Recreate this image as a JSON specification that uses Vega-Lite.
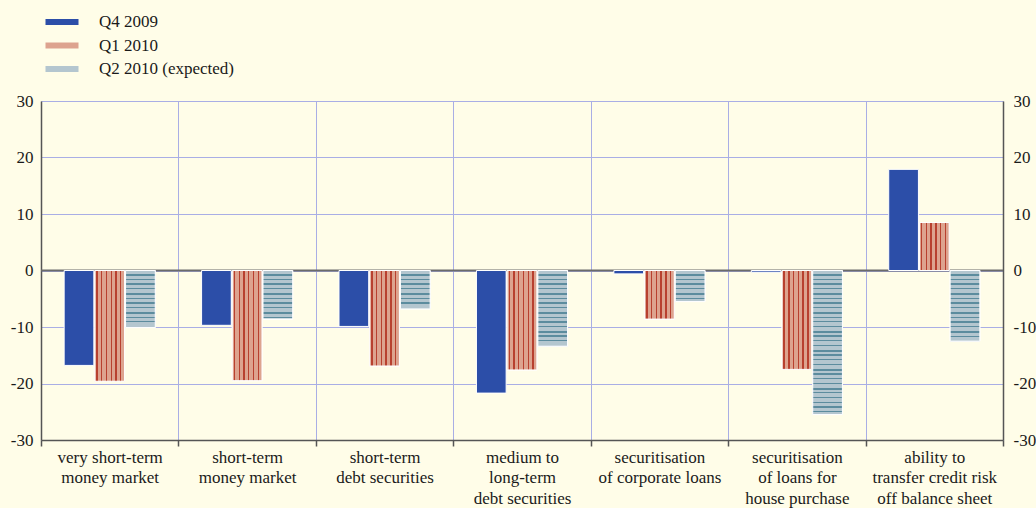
{
  "$schema": "https://vega.github.io/schema/vega-lite/v6.json",
  "width": 962,
  "height": 339,
  "autosize": {"type": "none"},
  "padding": {"left": 41, "top": 101, "right": 33, "bottom": 68},
  "background": "#FFFDE8",
  "config": {"view": {"stroke": null}, "font": "Liberation Serif"},
  "data": {"values": [
    {"cat": "very short-term|money market", "series": "Q4 2009", "value": -16.8},
    {"cat": "very short-term|money market", "series": "Q1 2010", "value": -19.6},
    {"cat": "very short-term|money market", "series": "Q2 2010 (expected)", "value": -10.1},
    {"cat": "short-term|money market", "series": "Q4 2009", "value": -9.7},
    {"cat": "short-term|money market", "series": "Q1 2010", "value": -19.5},
    {"cat": "short-term|money market", "series": "Q2 2010 (expected)", "value": -8.6},
    {"cat": "short-term|debt securities", "series": "Q4 2009", "value": -9.9},
    {"cat": "short-term|debt securities", "series": "Q1 2010", "value": -16.9},
    {"cat": "short-term|debt securities", "series": "Q2 2010 (expected)", "value": -6.8},
    {"cat": "medium to|long-term|debt securities", "series": "Q4 2009", "value": -21.7},
    {"cat": "medium to|long-term|debt securities", "series": "Q1 2010", "value": -17.6},
    {"cat": "medium to|long-term|debt securities", "series": "Q2 2010 (expected)", "value": -13.4},
    {"cat": "securitisation|of corporate loans", "series": "Q4 2009", "value": -0.6},
    {"cat": "securitisation|of corporate loans", "series": "Q1 2010", "value": -8.6},
    {"cat": "securitisation|of corporate loans", "series": "Q2 2010 (expected)", "value": -5.5},
    {"cat": "securitisation|of loans for|house purchase", "series": "Q4 2009", "value": -0.3},
    {"cat": "securitisation|of loans for|house purchase", "series": "Q1 2010", "value": -17.5},
    {"cat": "securitisation|of loans for|house purchase", "series": "Q2 2010 (expected)", "value": -25.5},
    {"cat": "ability to|transfer credit risk|off balance sheet", "series": "Q4 2009", "value": 17.9},
    {"cat": "ability to|transfer credit risk|off balance sheet", "series": "Q1 2010", "value": 8.5},
    {"cat": "ability to|transfer credit risk|off balance sheet", "series": "Q2 2010 (expected)", "value": -12.5}
  ]},
  "resolve": {"axis": {"y": "independent"}},
  "layer": [
    {
      "data": {"values": [{"zero": 0}]},
      "mark": {"type": "rule", "color": "#6b6b6b", "strokeWidth": 2},
      "encoding": {
        "y": {"field": "zero", "type": "quantitative", "scale": {"domain": [-30, 30], "nice": false}, "axis": null}
      }
    },
    {
      "mark": {"type": "bar", "stroke": "white", "strokeWidth": 1},
      "encoding": {
        "x": {"field": "cat", "type": "nominal", "sort": null,
          "scale": {"paddingInner": 0, "paddingOuter": 0},
          "axis": {"title": null, "labelExpr": "split(datum.label, '|')", "labelAngle": 0, "labelAlign": "center", "labelBaseline": "top",
            "labelFontSize": 17, "labelColor": "#1a1a1a", "labelLineHeight": 20.7, "labelPadding": 3,
            "tickBand": "extent", "ticks": true, "tickSize": 6, "tickColor": "#555", "tickWidth": 1.5,
            "domainColor": "#555", "domainWidth": 1.5, "grid": true, "gridColor": "#A9AEE5", "gridWidth": 1}},
        "xOffset": {"field": "series", "type": "nominal", "scale": {"domain": ["Q4 2009", "Q1 2010", "Q2 2010 (expected)"], "paddingInner": 0.033, "paddingOuter": 0.754}},
        "y": {"field": "value", "type": "quantitative", "scale": {"domain": [-30, 30], "nice": false},
          "axis": {"title": null, "orient": "left", "values": [-30, -20, -10, 0, 10, 20, 30], "ticks": false, "labelPadding": 8,
            "labelExpr": "replace(datum.label, '\u2212', '-')",
            "labelFontSize": 17, "labelColor": "#1a1a1a", "domainColor": "#555", "domainWidth": 1.5,
            "grid": true, "gridColor": "#A9AEE5", "gridWidth": 1}},
        "color": {"field": "series", "type": "nominal",
          "scale": {"domain": ["Q4 2009", "Q1 2010", "Q2 2010 (expected)"], "range": ["#2C4EA8", "#DDA38F", "#B4C6CF"]},
          "legend": {"title": null, "orient": "none", "legendX": 12.5, "legendY": -87.5, "padding": 0,
            "symbolType": "M-5.5,-1L5.5,-1L5.5,1L-5.5,1Z", "symbolSize": 36, "symbolStrokeWidth": 0,
            "labelFontSize": 17, "labelColor": "#1a1a1a", "labelOffset": 28.5, "rowPadding": 5.5,
            "encode": {"symbols": {"update": {"fill": {"condition": [
              {"test": "datum.value === 'Q1 2010'", "value": {"gradient": "linear", "x1": 0, "y1": 0, "x2": 1, "y2": 0, "stops": [
                {"offset": 0, "color": "#DDA38F"},
                {"offset": 0.06, "color": "#DDA38F"}, {"offset": 0.06, "color": "#B8402F"}, {"offset": 0.1, "color": "#B8402F"}, {"offset": 0.1, "color": "#DDA38F"},
                {"offset": 0.2, "color": "#DDA38F"}, {"offset": 0.2, "color": "#B8402F"}, {"offset": 0.24, "color": "#B8402F"}, {"offset": 0.24, "color": "#DDA38F"},
                {"offset": 0.34, "color": "#DDA38F"}, {"offset": 0.34, "color": "#B8402F"}, {"offset": 0.38, "color": "#B8402F"}, {"offset": 0.38, "color": "#DDA38F"},
                {"offset": 0.48, "color": "#DDA38F"}, {"offset": 0.48, "color": "#B8402F"}, {"offset": 0.52, "color": "#B8402F"}, {"offset": 0.52, "color": "#DDA38F"},
                {"offset": 0.62, "color": "#DDA38F"}, {"offset": 0.62, "color": "#B8402F"}, {"offset": 0.66, "color": "#B8402F"}, {"offset": 0.66, "color": "#DDA38F"},
                {"offset": 0.76, "color": "#DDA38F"}, {"offset": 0.76, "color": "#B8402F"}, {"offset": 0.8, "color": "#B8402F"}, {"offset": 0.8, "color": "#DDA38F"},
                {"offset": 0.9, "color": "#DDA38F"}, {"offset": 0.9, "color": "#B8402F"}, {"offset": 0.94, "color": "#B8402F"}, {"offset": 0.94, "color": "#DDA38F"},
                {"offset": 1, "color": "#DDA38F"}]}},
              {"test": "datum.value === 'Q2 2010 (expected)'", "value": {"gradient": "linear", "x1": 0, "y1": 0, "x2": 0, "y2": 1, "stops": [
                {"offset": 0, "color": "#B4C6CF"}, {"offset": 0.4, "color": "#B4C6CF"}, {"offset": 0.4, "color": "#5C8C9E"},
                {"offset": 0.62, "color": "#5C8C9E"}, {"offset": 0.62, "color": "#B4C6CF"}, {"offset": 1, "color": "#B4C6CF"}]}}
            ], "value": "#2C4EA8"}}}}
          }}
      }
    },
    {
      "transform": [{"filter": "datum.series === 'Q1 2010'"}],
      "mark": {"type": "bar", "stroke": "white", "strokeWidth": 1,
        "fill": {"gradient": "linear", "x1": 0, "y1": 0, "x2": 1, "y2": 0, "stops": [
          {"offset": 0, "color": "#DDA38F"},
          {"offset": 0.05, "color": "#DDA38F"}, {"offset": 0.05, "color": "#B8402F"}, {"offset": 0.1, "color": "#B8402F"}, {"offset": 0.1, "color": "#DDA38F"},
          {"offset": 0.21, "color": "#DDA38F"}, {"offset": 0.21, "color": "#B8402F"}, {"offset": 0.255, "color": "#B8402F"}, {"offset": 0.255, "color": "#DDA38F"},
          {"offset": 0.37, "color": "#DDA38F"}, {"offset": 0.37, "color": "#B8402F"}, {"offset": 0.415, "color": "#B8402F"}, {"offset": 0.415, "color": "#DDA38F"},
          {"offset": 0.53, "color": "#DDA38F"}, {"offset": 0.53, "color": "#B8402F"}, {"offset": 0.575, "color": "#B8402F"}, {"offset": 0.575, "color": "#DDA38F"},
          {"offset": 0.69, "color": "#DDA38F"}, {"offset": 0.69, "color": "#B8402F"}, {"offset": 0.74, "color": "#B8402F"}, {"offset": 0.74, "color": "#DDA38F"},
          {"offset": 0.85, "color": "#DDA38F"}, {"offset": 0.85, "color": "#B8402F"}, {"offset": 0.895, "color": "#B8402F"}, {"offset": 0.895, "color": "#DDA38F"},
          {"offset": 1, "color": "#DDA38F"}]}},
      "encoding": {
        "x": {"field": "cat", "type": "nominal", "sort": null},
        "xOffset": {"field": "series", "type": "nominal", "scale": {"domain": ["Q4 2009", "Q1 2010", "Q2 2010 (expected)"]}},
        "y": {"field": "value", "type": "quantitative", "scale": {"domain": [-30, 30], "nice": false},
          "axis": {"title": null, "orient": "right", "values": [-30, -20, -10, 0, 10, 20, 30], "ticks": false, "labelPadding": 10,
            "labelExpr": "replace(datum.label, '\u2212', '-')",
            "labelFontSize": 17, "labelColor": "#1a1a1a", "domainColor": "#555", "domainWidth": 1.5, "grid": false}}
      }
    },
    {
      "transform": [{"filter": "datum.series === 'Q2 2010 (expected)'"}],
      "mark": {"type": "bar", "stroke": "white", "strokeWidth": 1},
      "encoding": {
        "x": {"field": "cat", "type": "nominal", "sort": null},
        "xOffset": {"field": "series", "type": "nominal", "scale": {"domain": ["Q4 2009", "Q1 2010", "Q2 2010 (expected)"]}},
        "y": {"field": "value", "type": "quantitative", "scale": {"domain": [-30, 30], "nice": false}, "axis": null},
        "fill": {"condition": [
          {"test": "datum.cat === 'very short-term|money market'", "value": {"gradient": "linear", "x1": 0, "y1": 0, "x2": 0, "y2": 1, "stops": [
            {"offset": 0, "color": "#B4C6CF"},
            {"offset": 0.0613, "color": "#B4C6CF"}, {"offset": 0.0613, "color": "#5C8C9E"}, {"offset": 0.0963, "color": "#5C8C9E"}, {"offset": 0.0963, "color": "#B4C6CF"},
            {"offset": 0.1441, "color": "#B4C6CF"}, {"offset": 0.1441, "color": "#5C8C9E"}, {"offset": 0.1651, "color": "#5C8C9E"}, {"offset": 0.1651, "color": "#B4C6CF"},
            {"offset": 0.227, "color": "#B4C6CF"}, {"offset": 0.227, "color": "#5C8C9E"}, {"offset": 0.248, "color": "#5C8C9E"}, {"offset": 0.248, "color": "#B4C6CF"},
            {"offset": 0.3098, "color": "#B4C6CF"}, {"offset": 0.3098, "color": "#5C8C9E"}, {"offset": 0.3308, "color": "#5C8C9E"}, {"offset": 0.3308, "color": "#B4C6CF"},
            {"offset": 0.3926, "color": "#B4C6CF"}, {"offset": 0.3926, "color": "#5C8C9E"}, {"offset": 0.4277, "color": "#5C8C9E"}, {"offset": 0.4277, "color": "#B4C6CF"},
            {"offset": 0.4755, "color": "#B4C6CF"}, {"offset": 0.4755, "color": "#5C8C9E"}, {"offset": 0.4965, "color": "#5C8C9E"}, {"offset": 0.4965, "color": "#B4C6CF"},
            {"offset": 0.5583, "color": "#B4C6CF"}, {"offset": 0.5583, "color": "#5C8C9E"}, {"offset": 0.5793, "color": "#5C8C9E"}, {"offset": 0.5793, "color": "#B4C6CF"},
            {"offset": 0.6412, "color": "#B4C6CF"}, {"offset": 0.6412, "color": "#5C8C9E"}, {"offset": 0.6622, "color": "#5C8C9E"}, {"offset": 0.6622, "color": "#B4C6CF"},
            {"offset": 0.724, "color": "#B4C6CF"}, {"offset": 0.724, "color": "#5C8C9E"}, {"offset": 0.759, "color": "#5C8C9E"}, {"offset": 0.759, "color": "#B4C6CF"},
            {"offset": 0.8068, "color": "#B4C6CF"}, {"offset": 0.8068, "color": "#5C8C9E"}, {"offset": 0.8278, "color": "#5C8C9E"}, {"offset": 0.8278, "color": "#B4C6CF"},
            {"offset": 0.8897, "color": "#B4C6CF"}, {"offset": 0.8897, "color": "#5C8C9E"}, {"offset": 0.9107, "color": "#5C8C9E"}, {"offset": 0.9107, "color": "#B4C6CF"},
            {"offset": 1, "color": "#B4C6CF"}]}},
          {"test": "datum.cat === 'short-term|money market'", "value": {"gradient": "linear", "x1": 0, "y1": 0, "x2": 0, "y2": 1, "stops": [
            {"offset": 0, "color": "#B4C6CF"},
            {"offset": 0.072, "color": "#B4C6CF"}, {"offset": 0.072, "color": "#5C8C9E"}, {"offset": 0.1132, "color": "#5C8C9E"}, {"offset": 0.1132, "color": "#B4C6CF"},
            {"offset": 0.1693, "color": "#B4C6CF"}, {"offset": 0.1693, "color": "#5C8C9E"}, {"offset": 0.194, "color": "#5C8C9E"}, {"offset": 0.194, "color": "#B4C6CF"},
            {"offset": 0.2667, "color": "#B4C6CF"}, {"offset": 0.2667, "color": "#5C8C9E"}, {"offset": 0.2914, "color": "#5C8C9E"}, {"offset": 0.2914, "color": "#B4C6CF"},
            {"offset": 0.364, "color": "#B4C6CF"}, {"offset": 0.364, "color": "#5C8C9E"}, {"offset": 0.3887, "color": "#5C8C9E"}, {"offset": 0.3887, "color": "#B4C6CF"},
            {"offset": 0.4613, "color": "#B4C6CF"}, {"offset": 0.4613, "color": "#5C8C9E"}, {"offset": 0.5025, "color": "#5C8C9E"}, {"offset": 0.5025, "color": "#B4C6CF"},
            {"offset": 0.5586, "color": "#B4C6CF"}, {"offset": 0.5586, "color": "#5C8C9E"}, {"offset": 0.5833, "color": "#5C8C9E"}, {"offset": 0.5833, "color": "#B4C6CF"},
            {"offset": 0.656, "color": "#B4C6CF"}, {"offset": 0.656, "color": "#5C8C9E"}, {"offset": 0.6807, "color": "#5C8C9E"}, {"offset": 0.6807, "color": "#B4C6CF"},
            {"offset": 0.7533, "color": "#B4C6CF"}, {"offset": 0.7533, "color": "#5C8C9E"}, {"offset": 0.778, "color": "#5C8C9E"}, {"offset": 0.778, "color": "#B4C6CF"},
            {"offset": 0.8506, "color": "#B4C6CF"}, {"offset": 0.8506, "color": "#5C8C9E"}, {"offset": 0.8918, "color": "#5C8C9E"}, {"offset": 0.8918, "color": "#B4C6CF"},
            {"offset": 0.9479, "color": "#B4C6CF"}, {"offset": 0.9479, "color": "#5C8C9E"}, {"offset": 0.9726, "color": "#5C8C9E"}, {"offset": 0.9726, "color": "#B4C6CF"},
            {"offset": 1, "color": "#B4C6CF"}]}},
          {"test": "datum.cat === 'short-term|debt securities'", "value": {"gradient": "linear", "x1": 0, "y1": 0, "x2": 0, "y2": 1, "stops": [
            {"offset": 0, "color": "#B4C6CF"},
            {"offset": 0.0911, "color": "#B4C6CF"}, {"offset": 0.0911, "color": "#5C8C9E"}, {"offset": 0.1432, "color": "#5C8C9E"}, {"offset": 0.1432, "color": "#B4C6CF"},
            {"offset": 0.2143, "color": "#B4C6CF"}, {"offset": 0.2143, "color": "#5C8C9E"}, {"offset": 0.2456, "color": "#5C8C9E"}, {"offset": 0.2456, "color": "#B4C6CF"},
            {"offset": 0.3375, "color": "#B4C6CF"}, {"offset": 0.3375, "color": "#5C8C9E"}, {"offset": 0.3688, "color": "#5C8C9E"}, {"offset": 0.3688, "color": "#B4C6CF"},
            {"offset": 0.4607, "color": "#B4C6CF"}, {"offset": 0.4607, "color": "#5C8C9E"}, {"offset": 0.4919, "color": "#5C8C9E"}, {"offset": 0.4919, "color": "#B4C6CF"},
            {"offset": 0.5839, "color": "#B4C6CF"}, {"offset": 0.5839, "color": "#5C8C9E"}, {"offset": 0.6359, "color": "#5C8C9E"}, {"offset": 0.6359, "color": "#B4C6CF"},
            {"offset": 0.707, "color": "#B4C6CF"}, {"offset": 0.707, "color": "#5C8C9E"}, {"offset": 0.7383, "color": "#5C8C9E"}, {"offset": 0.7383, "color": "#B4C6CF"},
            {"offset": 0.8302, "color": "#B4C6CF"}, {"offset": 0.8302, "color": "#5C8C9E"}, {"offset": 0.8615, "color": "#5C8C9E"}, {"offset": 0.8615, "color": "#B4C6CF"},
            {"offset": 1, "color": "#B4C6CF"}]}},
          {"test": "datum.cat === 'medium to|long-term|debt securities'", "value": {"gradient": "linear", "x1": 0, "y1": 0, "x2": 0, "y2": 1, "stops": [
            {"offset": 0, "color": "#B4C6CF"},
            {"offset": 0.0462, "color": "#B4C6CF"}, {"offset": 0.0462, "color": "#5C8C9E"}, {"offset": 0.0727, "color": "#5C8C9E"}, {"offset": 0.0727, "color": "#B4C6CF"},
            {"offset": 0.1087, "color": "#B4C6CF"}, {"offset": 0.1087, "color": "#5C8C9E"}, {"offset": 0.1246, "color": "#5C8C9E"}, {"offset": 0.1246, "color": "#B4C6CF"},
            {"offset": 0.1712, "color": "#B4C6CF"}, {"offset": 0.1712, "color": "#5C8C9E"}, {"offset": 0.1871, "color": "#5C8C9E"}, {"offset": 0.1871, "color": "#B4C6CF"},
            {"offset": 0.2337, "color": "#B4C6CF"}, {"offset": 0.2337, "color": "#5C8C9E"}, {"offset": 0.2495, "color": "#5C8C9E"}, {"offset": 0.2495, "color": "#B4C6CF"},
            {"offset": 0.2962, "color": "#B4C6CF"}, {"offset": 0.2962, "color": "#5C8C9E"}, {"offset": 0.3226, "color": "#5C8C9E"}, {"offset": 0.3226, "color": "#B4C6CF"},
            {"offset": 0.3587, "color": "#B4C6CF"}, {"offset": 0.3587, "color": "#5C8C9E"}, {"offset": 0.3745, "color": "#5C8C9E"}, {"offset": 0.3745, "color": "#B4C6CF"},
            {"offset": 0.4211, "color": "#B4C6CF"}, {"offset": 0.4211, "color": "#5C8C9E"}, {"offset": 0.437, "color": "#5C8C9E"}, {"offset": 0.437, "color": "#B4C6CF"},
            {"offset": 0.4836, "color": "#B4C6CF"}, {"offset": 0.4836, "color": "#5C8C9E"}, {"offset": 0.4995, "color": "#5C8C9E"}, {"offset": 0.4995, "color": "#B4C6CF"},
            {"offset": 0.5461, "color": "#B4C6CF"}, {"offset": 0.5461, "color": "#5C8C9E"}, {"offset": 0.5725, "color": "#5C8C9E"}, {"offset": 0.5725, "color": "#B4C6CF"},
            {"offset": 0.6086, "color": "#B4C6CF"}, {"offset": 0.6086, "color": "#5C8C9E"}, {"offset": 0.6244, "color": "#5C8C9E"}, {"offset": 0.6244, "color": "#B4C6CF"},
            {"offset": 0.6711, "color": "#B4C6CF"}, {"offset": 0.6711, "color": "#5C8C9E"}, {"offset": 0.6869, "color": "#5C8C9E"}, {"offset": 0.6869, "color": "#B4C6CF"},
            {"offset": 0.7336, "color": "#B4C6CF"}, {"offset": 0.7336, "color": "#5C8C9E"}, {"offset": 0.7494, "color": "#5C8C9E"}, {"offset": 0.7494, "color": "#B4C6CF"},
            {"offset": 0.796, "color": "#B4C6CF"}, {"offset": 0.796, "color": "#5C8C9E"}, {"offset": 0.8225, "color": "#5C8C9E"}, {"offset": 0.8225, "color": "#B4C6CF"},
            {"offset": 0.8585, "color": "#B4C6CF"}, {"offset": 0.8585, "color": "#5C8C9E"}, {"offset": 0.8744, "color": "#5C8C9E"}, {"offset": 0.8744, "color": "#B4C6CF"},
            {"offset": 0.921, "color": "#B4C6CF"}, {"offset": 0.921, "color": "#5C8C9E"}, {"offset": 0.9369, "color": "#5C8C9E"}, {"offset": 0.9369, "color": "#B4C6CF"},
            {"offset": 1, "color": "#B4C6CF"}]}},
          {"test": "datum.cat === 'securitisation|of corporate loans'", "value": {"gradient": "linear", "x1": 0, "y1": 0, "x2": 0, "y2": 1, "stops": [
            {"offset": 0, "color": "#B4C6CF"},
            {"offset": 0.1125, "color": "#B4C6CF"}, {"offset": 0.1125, "color": "#5C8C9E"}, {"offset": 0.1768, "color": "#5C8C9E"}, {"offset": 0.1768, "color": "#B4C6CF"},
            {"offset": 0.2646, "color": "#B4C6CF"}, {"offset": 0.2646, "color": "#5C8C9E"}, {"offset": 0.3032, "color": "#5C8C9E"}, {"offset": 0.3032, "color": "#B4C6CF"},
            {"offset": 0.4167, "color": "#B4C6CF"}, {"offset": 0.4167, "color": "#5C8C9E"}, {"offset": 0.4553, "color": "#5C8C9E"}, {"offset": 0.4553, "color": "#B4C6CF"},
            {"offset": 0.5688, "color": "#B4C6CF"}, {"offset": 0.5688, "color": "#5C8C9E"}, {"offset": 0.6074, "color": "#5C8C9E"}, {"offset": 0.6074, "color": "#B4C6CF"},
            {"offset": 0.7209, "color": "#B4C6CF"}, {"offset": 0.7209, "color": "#5C8C9E"}, {"offset": 0.7852, "color": "#5C8C9E"}, {"offset": 0.7852, "color": "#B4C6CF"},
            {"offset": 0.873, "color": "#B4C6CF"}, {"offset": 0.873, "color": "#5C8C9E"}, {"offset": 0.9116, "color": "#5C8C9E"}, {"offset": 0.9116, "color": "#B4C6CF"},
            {"offset": 1, "color": "#B4C6CF"}]}},
          {"test": "datum.cat === 'securitisation|of loans for|house purchase'", "value": {"gradient": "linear", "x1": 0, "y1": 0, "x2": 0, "y2": 1, "stops": [
            {"offset": 0, "color": "#B4C6CF"},
            {"offset": 0.0243, "color": "#B4C6CF"}, {"offset": 0.0243, "color": "#5C8C9E"}, {"offset": 0.0382, "color": "#5C8C9E"}, {"offset": 0.0382, "color": "#B4C6CF"},
            {"offset": 0.0571, "color": "#B4C6CF"}, {"offset": 0.0571, "color": "#5C8C9E"}, {"offset": 0.0654, "color": "#5C8C9E"}, {"offset": 0.0654, "color": "#B4C6CF"},
            {"offset": 0.0899, "color": "#B4C6CF"}, {"offset": 0.0899, "color": "#5C8C9E"}, {"offset": 0.0983, "color": "#5C8C9E"}, {"offset": 0.0983, "color": "#B4C6CF"},
            {"offset": 0.1228, "color": "#B4C6CF"}, {"offset": 0.1228, "color": "#5C8C9E"}, {"offset": 0.1311, "color": "#5C8C9E"}, {"offset": 0.1311, "color": "#B4C6CF"},
            {"offset": 0.1556, "color": "#B4C6CF"}, {"offset": 0.1556, "color": "#5C8C9E"}, {"offset": 0.1695, "color": "#5C8C9E"}, {"offset": 0.1695, "color": "#B4C6CF"},
            {"offset": 0.1884, "color": "#B4C6CF"}, {"offset": 0.1884, "color": "#5C8C9E"}, {"offset": 0.1967, "color": "#5C8C9E"}, {"offset": 0.1967, "color": "#B4C6CF"},
            {"offset": 0.2212, "color": "#B4C6CF"}, {"offset": 0.2212, "color": "#5C8C9E"}, {"offset": 0.2296, "color": "#5C8C9E"}, {"offset": 0.2296, "color": "#B4C6CF"},
            {"offset": 0.2541, "color": "#B4C6CF"}, {"offset": 0.2541, "color": "#5C8C9E"}, {"offset": 0.2624, "color": "#5C8C9E"}, {"offset": 0.2624, "color": "#B4C6CF"},
            {"offset": 0.2869, "color": "#B4C6CF"}, {"offset": 0.2869, "color": "#5C8C9E"}, {"offset": 0.3008, "color": "#5C8C9E"}, {"offset": 0.3008, "color": "#B4C6CF"},
            {"offset": 0.3197, "color": "#B4C6CF"}, {"offset": 0.3197, "color": "#5C8C9E"}, {"offset": 0.328, "color": "#5C8C9E"}, {"offset": 0.328, "color": "#B4C6CF"},
            {"offset": 0.3525, "color": "#B4C6CF"}, {"offset": 0.3525, "color": "#5C8C9E"}, {"offset": 0.3609, "color": "#5C8C9E"}, {"offset": 0.3609, "color": "#B4C6CF"},
            {"offset": 0.3854, "color": "#B4C6CF"}, {"offset": 0.3854, "color": "#5C8C9E"}, {"offset": 0.3937, "color": "#5C8C9E"}, {"offset": 0.3937, "color": "#B4C6CF"},
            {"offset": 0.4182, "color": "#B4C6CF"}, {"offset": 0.4182, "color": "#5C8C9E"}, {"offset": 0.4321, "color": "#5C8C9E"}, {"offset": 0.4321, "color": "#B4C6CF"},
            {"offset": 0.451, "color": "#B4C6CF"}, {"offset": 0.451, "color": "#5C8C9E"}, {"offset": 0.4593, "color": "#5C8C9E"}, {"offset": 0.4593, "color": "#B4C6CF"},
            {"offset": 0.4838, "color": "#B4C6CF"}, {"offset": 0.4838, "color": "#5C8C9E"}, {"offset": 0.4922, "color": "#5C8C9E"}, {"offset": 0.4922, "color": "#B4C6CF"},
            {"offset": 0.5167, "color": "#B4C6CF"}, {"offset": 0.5167, "color": "#5C8C9E"}, {"offset": 0.525, "color": "#5C8C9E"}, {"offset": 0.525, "color": "#B4C6CF"},
            {"offset": 0.5495, "color": "#B4C6CF"}, {"offset": 0.5495, "color": "#5C8C9E"}, {"offset": 0.5634, "color": "#5C8C9E"}, {"offset": 0.5634, "color": "#B4C6CF"},
            {"offset": 0.5823, "color": "#B4C6CF"}, {"offset": 0.5823, "color": "#5C8C9E"}, {"offset": 0.5906, "color": "#5C8C9E"}, {"offset": 0.5906, "color": "#B4C6CF"},
            {"offset": 0.6151, "color": "#B4C6CF"}, {"offset": 0.6151, "color": "#5C8C9E"}, {"offset": 0.6235, "color": "#5C8C9E"}, {"offset": 0.6235, "color": "#B4C6CF"},
            {"offset": 0.648, "color": "#B4C6CF"}, {"offset": 0.648, "color": "#5C8C9E"}, {"offset": 0.6563, "color": "#5C8C9E"}, {"offset": 0.6563, "color": "#B4C6CF"},
            {"offset": 0.6808, "color": "#B4C6CF"}, {"offset": 0.6808, "color": "#5C8C9E"}, {"offset": 0.6947, "color": "#5C8C9E"}, {"offset": 0.6947, "color": "#B4C6CF"},
            {"offset": 0.7136, "color": "#B4C6CF"}, {"offset": 0.7136, "color": "#5C8C9E"}, {"offset": 0.7219, "color": "#5C8C9E"}, {"offset": 0.7219, "color": "#B4C6CF"},
            {"offset": 0.7464, "color": "#B4C6CF"}, {"offset": 0.7464, "color": "#5C8C9E"}, {"offset": 0.7548, "color": "#5C8C9E"}, {"offset": 0.7548, "color": "#B4C6CF"},
            {"offset": 0.7793, "color": "#B4C6CF"}, {"offset": 0.7793, "color": "#5C8C9E"}, {"offset": 0.7876, "color": "#5C8C9E"}, {"offset": 0.7876, "color": "#B4C6CF"},
            {"offset": 0.8121, "color": "#B4C6CF"}, {"offset": 0.8121, "color": "#5C8C9E"}, {"offset": 0.826, "color": "#5C8C9E"}, {"offset": 0.826, "color": "#B4C6CF"},
            {"offset": 0.8449, "color": "#B4C6CF"}, {"offset": 0.8449, "color": "#5C8C9E"}, {"offset": 0.8532, "color": "#5C8C9E"}, {"offset": 0.8532, "color": "#B4C6CF"},
            {"offset": 0.8777, "color": "#B4C6CF"}, {"offset": 0.8777, "color": "#5C8C9E"}, {"offset": 0.8861, "color": "#5C8C9E"}, {"offset": 0.8861, "color": "#B4C6CF"},
            {"offset": 0.9106, "color": "#B4C6CF"}, {"offset": 0.9106, "color": "#5C8C9E"}, {"offset": 0.9189, "color": "#5C8C9E"}, {"offset": 0.9189, "color": "#B4C6CF"},
            {"offset": 0.9434, "color": "#B4C6CF"}, {"offset": 0.9434, "color": "#5C8C9E"}, {"offset": 0.9517, "color": "#5C8C9E"}, {"offset": 0.9517, "color": "#B4C6CF"},
            {"offset": 0.9762, "color": "#B4C6CF"}, {"offset": 0.9762, "color": "#5C8C9E"}, {"offset": 0.9845, "color": "#5C8C9E"}, {"offset": 0.9845, "color": "#B4C6CF"},
            {"offset": 1, "color": "#B4C6CF"}]}},
          {"test": "datum.cat === 'ability to|transfer credit risk|off balance sheet'", "value": {"gradient": "linear", "x1": 0, "y1": 0, "x2": 0, "y2": 1, "stops": [
            {"offset": 0, "color": "#B4C6CF"},
            {"offset": 0.0496, "color": "#B4C6CF"}, {"offset": 0.0496, "color": "#5C8C9E"}, {"offset": 0.0779, "color": "#5C8C9E"}, {"offset": 0.0779, "color": "#B4C6CF"},
            {"offset": 0.1166, "color": "#B4C6CF"}, {"offset": 0.1166, "color": "#5C8C9E"}, {"offset": 0.1336, "color": "#5C8C9E"}, {"offset": 0.1336, "color": "#B4C6CF"},
            {"offset": 0.1836, "color": "#B4C6CF"}, {"offset": 0.1836, "color": "#5C8C9E"}, {"offset": 0.2006, "color": "#5C8C9E"}, {"offset": 0.2006, "color": "#B4C6CF"},
            {"offset": 0.2506, "color": "#B4C6CF"}, {"offset": 0.2506, "color": "#5C8C9E"}, {"offset": 0.2676, "color": "#5C8C9E"}, {"offset": 0.2676, "color": "#B4C6CF"},
            {"offset": 0.3176, "color": "#B4C6CF"}, {"offset": 0.3176, "color": "#5C8C9E"}, {"offset": 0.3459, "color": "#5C8C9E"}, {"offset": 0.3459, "color": "#B4C6CF"},
            {"offset": 0.3846, "color": "#B4C6CF"}, {"offset": 0.3846, "color": "#5C8C9E"}, {"offset": 0.4016, "color": "#5C8C9E"}, {"offset": 0.4016, "color": "#B4C6CF"},
            {"offset": 0.4516, "color": "#B4C6CF"}, {"offset": 0.4516, "color": "#5C8C9E"}, {"offset": 0.4686, "color": "#5C8C9E"}, {"offset": 0.4686, "color": "#B4C6CF"},
            {"offset": 0.5186, "color": "#B4C6CF"}, {"offset": 0.5186, "color": "#5C8C9E"}, {"offset": 0.5356, "color": "#5C8C9E"}, {"offset": 0.5356, "color": "#B4C6CF"},
            {"offset": 0.5856, "color": "#B4C6CF"}, {"offset": 0.5856, "color": "#5C8C9E"}, {"offset": 0.6139, "color": "#5C8C9E"}, {"offset": 0.6139, "color": "#B4C6CF"},
            {"offset": 0.6525, "color": "#B4C6CF"}, {"offset": 0.6525, "color": "#5C8C9E"}, {"offset": 0.6695, "color": "#5C8C9E"}, {"offset": 0.6695, "color": "#B4C6CF"},
            {"offset": 0.7195, "color": "#B4C6CF"}, {"offset": 0.7195, "color": "#5C8C9E"}, {"offset": 0.7365, "color": "#5C8C9E"}, {"offset": 0.7365, "color": "#B4C6CF"},
            {"offset": 0.7865, "color": "#B4C6CF"}, {"offset": 0.7865, "color": "#5C8C9E"}, {"offset": 0.8035, "color": "#5C8C9E"}, {"offset": 0.8035, "color": "#B4C6CF"},
            {"offset": 0.8535, "color": "#B4C6CF"}, {"offset": 0.8535, "color": "#5C8C9E"}, {"offset": 0.8819, "color": "#5C8C9E"}, {"offset": 0.8819, "color": "#B4C6CF"},
            {"offset": 0.9205, "color": "#B4C6CF"}, {"offset": 0.9205, "color": "#5C8C9E"}, {"offset": 0.9375, "color": "#5C8C9E"}, {"offset": 0.9375, "color": "#B4C6CF"},
            {"offset": 1, "color": "#B4C6CF"}]}}
        ], "value": "#B4C6CF"}
      }
    }
  ]
}
